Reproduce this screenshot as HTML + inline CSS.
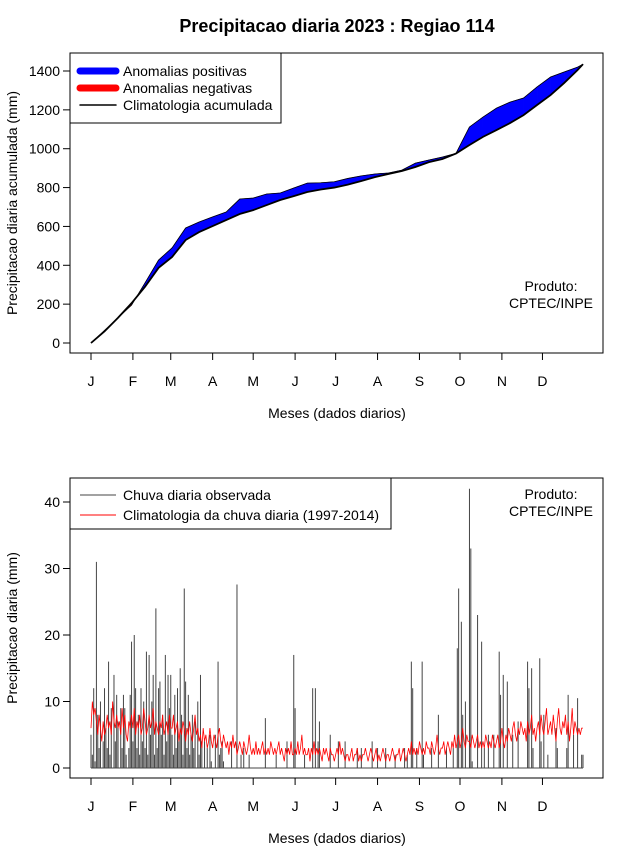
<!DOCTYPE html>
<html><head><meta charset="utf-8">
<style>
html,body{margin:0;padding:0;background:#fff;}
svg{display:block;font-family:"Liberation Sans",Arial,sans-serif;}
</style></head>
<body>
<svg id="s" width="640" height="850" viewBox="0 0 640 850">
<text x="337" y="32" text-anchor="middle" font-size="18" font-weight="bold">Precipitacao diaria 2023 : Regiao 114</text>
<g id="top"></g>
<g id="bot"></g>
</svg>
<script>
const months = ["J","F","M","A","M","J","J","A","S","O","N","D"];
const monthStartDays = [1,32,60,91,121,152,182,213,244,274,305,335];
const topTicks = [0,200,400,600,800,1000,1200,1400];
const botTicks = [0,10,20,30,40];
const accDays = [1,11,21,31,41,51,61,71,81,91,101,111,121,131,141,151,161,171,181,191,201,211,221,231,241,251,261,271,281,291,301,311,321,331,341,351,361,365];
const obsAcc = [0,65,130,195,310,427,490,592,623,649,674,741,746,767,772,798,823,825,830,847,860,870,875,890,926,942,957,976,1112,1163,1209,1240,1261,1318,1369,1395,1420,1435];
const climAcc = [0,60,130,205,290,387,443,530,571,602,633,664,684,710,736,756,777,790,800,815,834,854,870,885,906,931,947,975,1019,1061,1096,1132,1173,1225,1276,1338,1405,1435];
const obsDaily = [5,2,12,1,31,8,3,10,0,4, 12,6,3,16,2,9,0,14,4,11, 7,0,9,3,11,9,2,0,3,11,
19,4,20,12,3,8,2,12,4,10, 3,17.5,2,17,5,10,14,2,24,3, 12,13,5,8,2,17,4,14,9,14,
5,2,11,3,12,4,15,8,2,27, 13,3,11,2,5,8,3,7,0,10, 2,14,4,0,4,0,3,0,5,1,
0,0,5,0,16,2,3,4,1,0, 0,0,0,0,4,0,0,0,27.6,0, 0,2,0,3,0,0,0,2,0,0,
0,0,0,0,0,0,0,0,0,7.5, 0,0,0,0,0,0,0,2,0,0, 0,0,0,0,0,4,0,0,0,0,
17,9,0,0,0,0,0,0,2,0, 0,0,0,0,12,0,12,0,4,7, 0,0,0,0,0,0,0,5,0,0,
0,0,0,4,0,0,0,0,4,0, 0,0,0,0,0,0,0,3,0,0, 3,0,0,0,0,0,0,0,4,0,
0,0,3,0,0,0,0,0,3,0, 0,0,0,0,0,2,0,0,0,0, 0,0,3,0,2,0,0,16,12,0,
0,3,0,0,0,16,2,0,0,0, 0,0,3,0,0,0,0,8,0,0, 0,0,0,3,0,0,0,0,3,0,
0,18,27,0,22,8,0,10,0,0, 42,33,1,0,0,0,23,0,0,19, 0,3,0,0,5,0,0,0,5,0,
0,0,17.5,11,0,14,0,0,13,0, 0,0,5,0,0,0,7,0,0,0, 0,0,0,16,12,0,15,3,0,0,
0,0,16.5,4,0,8,0,0,2,0, 0,0,0,0,6,3,0,0,0,0, 0,0,3,11,0,0,0,5,0,0,
10.5,0,0,2,2];
const climDaily = [6,10,8,9,7,5,8,6,4,7, 5,6,8,6,7,5,10,7,6,8, 6,7,5,9,6,8,5,4,7,6,
8,6,9,5,7,6,8,5,6,9, 7,5,6,8,6,7,9,5,7,6, 5,7,6,8,5,6,7,5,8,6,
6,8,5,6,7,4,6,5,7,6, 4,6,5,7,5,4,6,8,5,6, 4,5,3,6,4,5,3,4,6,4,
3,5,4,3,5,6,4,3,5,4, 3,4,2,4,3,5,3,4,2,3, 4,3,2,4,3,2,3,5,3,2,
3,2,4,2,3,2,3,4,2,3, 2,3,2,4,3,2,3,2,3,4, 2,3,2,1,3,2,3,2,4,2,
2,3,2,4,2,3,5,2,3,2, 2,3,1,3,2,4,2,3,2,3, 2,1,3,2,3,2,1,3,2,2,
1,2,3,2,4,2,3,2,1,2, 2,1,2,3,1,2,2,3,1,2, 1,2,2,3,2,1,2,3,2,1,
2,3,1,2,1,2,3,2,1,2, 2,1,2,3,2,1,2,2,3,1, 2,3,2,1,2,3,2,4,2,3,
2,3,2,4,3,2,3,2,4,3, 3,2,4,3,2,3,5,3,2,3, 3,4,2,3,4,3,2,4,3,5,
3,4,5,3,4,6,4,3,5,4, 4,3,5,4,3,4,5,3,4,3, 4,3,5,4,3,4,3,5,4,3,
4,5,3,4,6,4,3,5,4,6, 5,4,6,7,5,4,6,5,7,6, 5,6,4,7,5,6,8,5,6,4,
6,7,5,8,6,5,7,9,5,6, 7,5,8,6,4,7,9,6,5,7, 6,8,5,7,4,6,9,5,7,6,
5,6,5,6,6];

const NS="http://www.w3.org/2000/svg";
function mk(parent,tag,attrs,text){const e=document.createElementNS(NS,tag);for(const k in attrs)e.setAttribute(k,attrs[k]);if(text!==undefined)e.textContent=text;parent.appendChild(e);return e;}
const xDay = d => 91 + (d-1)*(492/364);

function panel(g, y0, y1, vmin, vmax, yTop, yBot, ticks, ytitle){
  const yv = v => yBot - (v - vmin)/(vmax - vmin)*(yBot - yTop);
  const fr = mk(g,'rect',{x:70,y:y0,width:533,height:y1-y0,fill:'none',stroke:'#000','stroke-width':1});
  
  
  ticks.forEach(t=>{
    const l=mk(g,'line',{x1:63,x2:70,y1:yv(t),y2:yv(t),stroke:'#000'});
    
    
    const tx=mk(g,'text',{x:60,y:yv(t)+5,'text-anchor':'end','font-size':14},String(t));
    
    
  });
  monthStartDays.forEach((d,i)=>{
    const l=mk(g,'line',{x1:xDay(d),x2:xDay(d),y1:y1,y2:y1+7,stroke:'#000'});
    
    
    const tx=mk(g,'text',{x:xDay(d),y:y1+33,'text-anchor':'middle','font-size':14},months[i]);
    
    
  });
  const xt=mk(g,'text',{x:337,y:y1+65,'text-anchor':'middle','font-size':14},'Meses (dados diarios)');
  
  
  const cy=(y0+y1)/2;
  const yt=mk(g,'text',{x:17,y:cy,'text-anchor':'middle','font-size':14,transform:`rotate(-90 17 ${cy})`},ytitle);
  
  
  return yv;
}

// top panel
const gt=document.getElementById('top');
const yT = panel(gt,53,353,0,1400,71,343,topTicks,'Precipitacao diaria acumulada (mm)');
for(let i=0;i<accDays.length-1;i++){
  const xa=xDay(accDays[i]), xb=xDay(accDays[i+1]);
  const pos = (obsAcc[i]+obsAcc[i+1]) >= (climAcc[i]+climAcc[i+1]);
  const p=mk(gt,'polygon',{points:`${xa},${yT(obsAcc[i])} ${xb},${yT(obsAcc[i+1])} ${xb},${yT(climAcc[i+1])} ${xa},${yT(climAcc[i])}`,fill:pos?'#0000ff':'#ff0000',stroke:pos?'#0000ff':'#ff0000','stroke-width':0.5});
  
  
}
const obsLine=mk(gt,'polyline',{points:accDays.map((d,i)=>`${xDay(d)},${yT(obsAcc[i])}`).join(' '),fill:'none',stroke:'#000','stroke-width':0.8});


const climLine=mk(gt,'polyline',{points:accDays.map((d,i)=>`${xDay(d)},${yT(climAcc[i])}`).join(' '),fill:'none',stroke:'#000','stroke-width':1.8});



// top legend
const lt=mk(gt,'g',{});


mk(lt,'rect',{x:70,y:53,width:211,height:70,fill:'#fff',stroke:'#000'});
[['Anomalias positivas','#0000ff',7],['Anomalias negativas','#ff0000',7],['Climatologia acumulada','#000',1.5]].forEach((e,i)=>{
  const y=71+i*17;
  const en=mk(lt,'g',{});
  
  
  mk(en,'line',{x1:80,x2:116,y1:y,y2:y,stroke:e[1],'stroke-width':e[2],'stroke-linecap':'round'});
  mk(en,'text',{x:123,y:y+5,'font-size':14},e[0]);
});
const pt=mk(gt,'text',{x:551,y:291,'text-anchor':'middle','font-size':14},'Produto:');


const pt2=mk(gt,'text',{x:551,y:308,'text-anchor':'middle','font-size':14},'CPTEC/INPE');



// bottom panel
const gb=document.getElementById('bot');
const yB = panel(gb,478,778,0,40,502,768,botTicks,'Precipitacao diaria (mm)');
obsDaily.forEach((v,i)=>{
  if(v<=0) return;
  const x=xDay(i+1);
  const b=mk(gb,'line',{x1:x,x2:x,y1:yB(0),y2:yB(v),stroke:'#444','stroke-width':1});
  
  
});
const base=mk(gb,'line',{x1:xDay(1),x2:xDay(365),y1:yB(0),y2:yB(0),stroke:'#444','stroke-width':1});


const cl=mk(gb,'polyline',{points:climDaily.map((v,i)=>`${xDay(i+1)},${yB(v)}`).join(' '),fill:'none',stroke:'#ff0000','stroke-width':0.8});



const lb=mk(gb,'g',{});


mk(lb,'rect',{x:70,y:478,width:321,height:51,fill:'#fff',stroke:'#000'});
[['Chuva diaria observada','#444'],['Climatologia da chuva diaria (1997-2014)','#ff0000']].forEach((e,i)=>{
  const y=495+i*20;
  const en=mk(lb,'g',{});
  
  
  mk(en,'line',{x1:80,x2:116,y1:y,y2:y,stroke:e[1],'stroke-width':1});
  mk(en,'text',{x:123,y:y+5,'font-size':14},e[0]);
});
const bp=mk(gb,'text',{x:551,y:499,'text-anchor':'middle','font-size':14},'Produto:');


const bp2=mk(gb,'text',{x:551,y:516,'text-anchor':'middle','font-size':14},'CPTEC/INPE');


</script>
</body></html>
